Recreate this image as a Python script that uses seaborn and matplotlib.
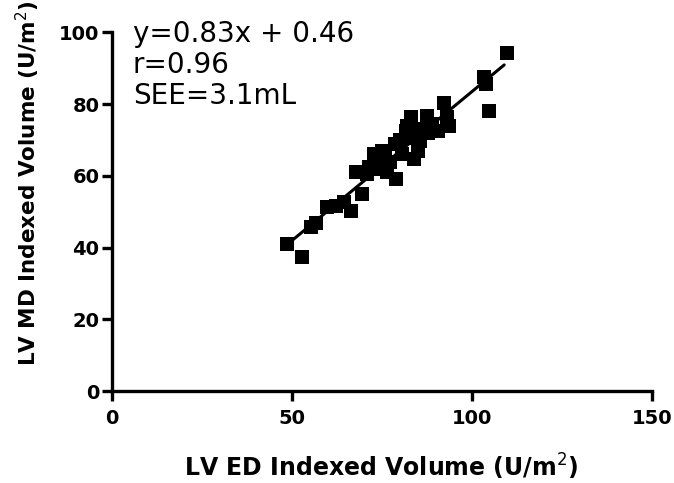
import numpy as np
import pandas as pd
import seaborn as sns
import matplotlib.pyplot as plt

# LV ED vs LV MD indexed volumes
ed_volume = [48.6, 52.8, 55.2, 56.6, 59.8, 62.2, 64.4, 66.3, 69.4, 67.7,
             70.9, 72.8, 74.6, 75.0, 77.4, 78.8, 78.9, 81.6, 83.0, 83.9,
             85.7, 87.5, 87.8, 92.2, 93.0, 93.6, 103.3, 104.0, 104.7, 109.7,
             73.5, 76.0, 80.0, 82.0, 84.0, 86.0, 89.0, 90.5, 80.5, 76.5,
             71.5, 85.0]
md_volume = [41.0, 37.3, 45.7, 47.0, 51.2, 51.5, 52.6, 50.1, 54.9, 61.0,
             60.4, 66.0, 61.8, 66.9, 64.0, 68.8, 59.0, 72.4, 76.3, 64.6,
             69.7, 76.6, 71.9, 80.2, 76.3, 73.8, 87.7, 85.5, 78.0, 94.2,
             63.0, 65.5, 70.0, 74.0, 70.5, 73.0, 74.5, 72.5, 66.0, 61.0,
             62.5, 67.0]

slope = 0.83
intercept = 0.46
fit_range = [48.6, 109.0]
stats_text = ["y=0.83x + 0.46", "r=0.96", "SEE=3.1mL"]

x_ticks = [0, 50, 100, 150]
y_ticks = [0, 20, 40, 60, 80, 100]

df = pd.DataFrame({"ED": ed_volume, "MD": md_volume})

sns.set_style("ticks")
plt.rcParams["font.family"] = ["DejaVu Sans"]
plt.rcParams["text.color"] = "black"
plt.rcParams["axes.labelcolor"] = "black"
plt.rcParams["xtick.color"] = "black"
plt.rcParams["ytick.color"] = "black"
plt.rcParams["axes.edgecolor"] = "black"

fig = plt.figure(figsize=(6.74, 4.83), dpi=100)
ax = fig.add_axes([0.166, 0.19, 0.801, 0.743])

sns.scatterplot(data=df, x="ED", y="MD", marker="s", s=110, color="black",
                linewidth=0, ax=ax, clip_on=False, zorder=3)

fx = np.array(fit_range)
sns.lineplot(x=fx, y=slope * fx + intercept, color="black", linewidth=2.2, ax=ax,
             zorder=2)

ax.set_xlim(0, 150)
ax.set_ylim(0, 100)
ax.set_xticks(x_ticks)
ax.set_yticks(y_ticks)

for side in ["left", "bottom"]:
    ax.spines[side].set_linewidth(2.4)
    ax.spines[side].set_capstyle("projecting")
sns.despine(ax=ax)

ax.tick_params(axis="both", length=7, width=2.4, labelsize=14)
ax.tick_params(axis="x", pad=6)
ax.tick_params(axis="y", pad=2)
for lab in ax.get_xticklabels() + ax.get_yticklabels():
    lab.set_fontweight("bold")

ax.set_xlabel("LV ED Indexed Volume (U/m$^2$)", fontsize=17, fontweight="bold")
ax.set_ylabel("LV MD Indexed Volume (U/m$^2$)", fontsize=15.5, fontweight="bold")
ax.xaxis.set_label_coords(0.499, -0.17)
ax.yaxis.set_label_coords(-0.13, 0.579)

ax.text(0.039, 1.035, "\n".join(stats_text), transform=ax.transAxes,
        ha="left", va="top", fontsize=20, linespacing=1.15)

fig.savefig("out.png", dpi=100)
